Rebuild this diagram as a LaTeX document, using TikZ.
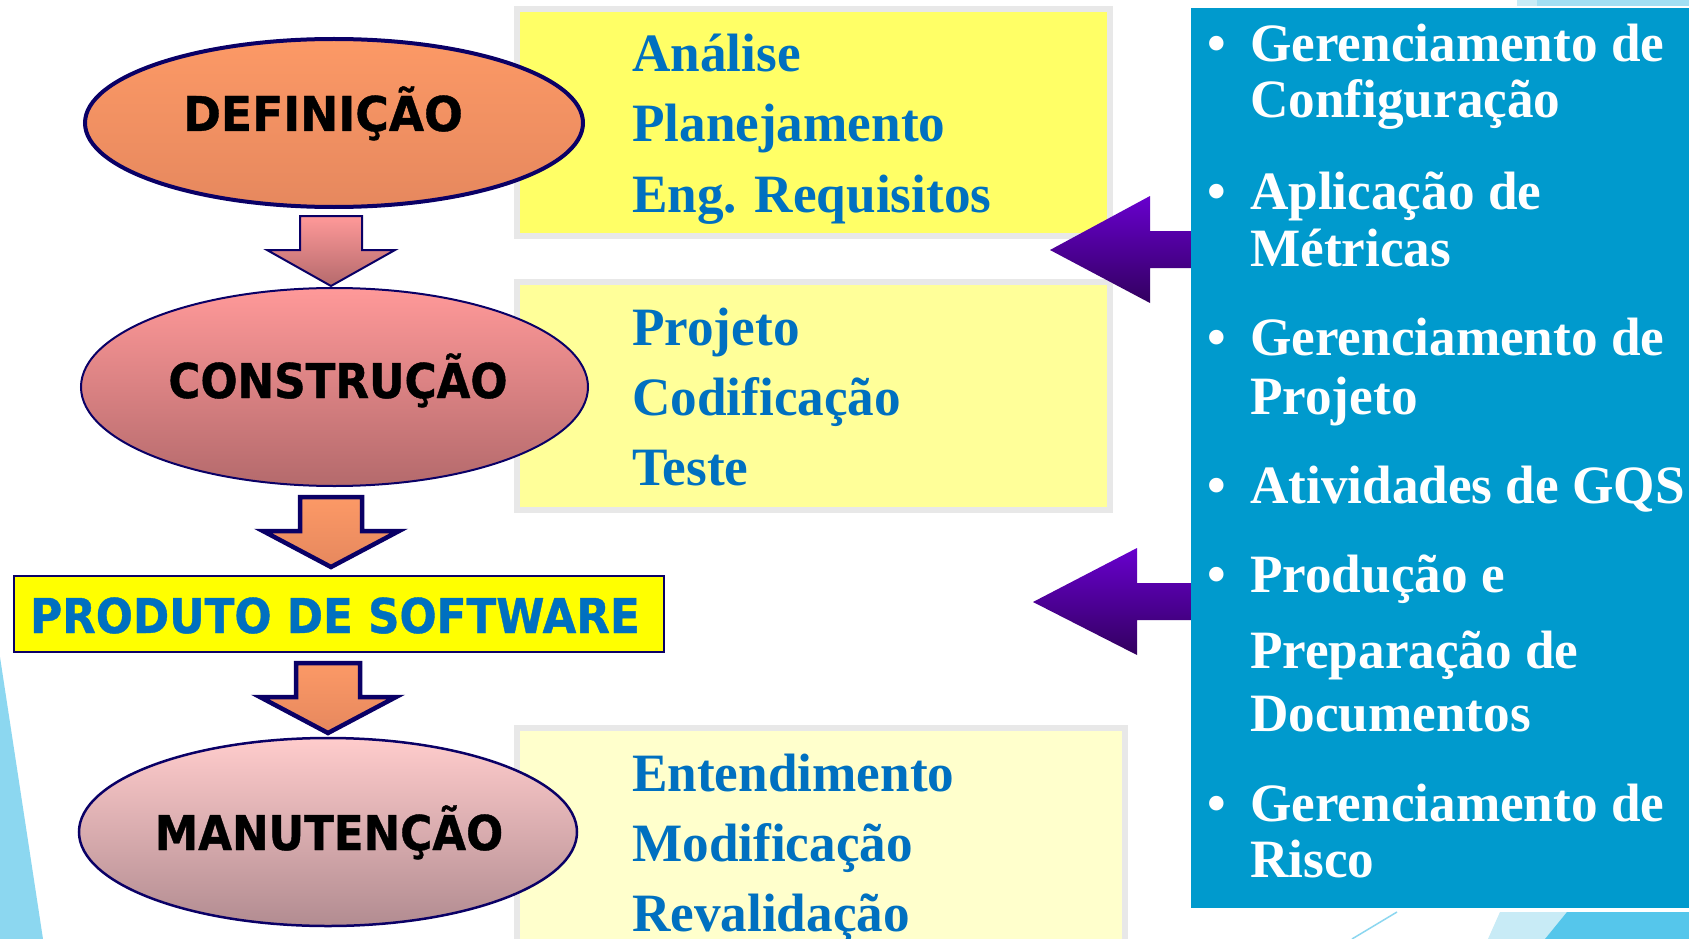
\documentclass[tikz,border=0pt]{standalone}
\usepackage{fontspec}
\setmainfont{Liberation Serif}[FakeStretch=0.985]
\newfontfamily\labfont[FakeStretch=0.91,FakeBold=0.8]{DejaVu Sans}
\newfontfamily\deffont[FakeStretch=0.95,FakeBold=0.8]{DejaVu Sans}
\usetikzlibrary{shapes.geometric,calc}
\definecolor{navy}{RGB}{10,0,102}
\definecolor{txtblue}{RGB}{0,112,192}
\definecolor{panelblue}{RGB}{0,154,205}
\definecolor{boxgray}{RGB}{232,232,232}
\definecolor{yelA}{RGB}{255,255,102}
\definecolor{yelB}{RGB}{255,255,153}
\definecolor{yelC}{RGB}{255,255,204}
\definecolor{prodyel}{RGB}{255,255,0}
\definecolor{orTop}{RGB}{252,153,102}
\definecolor{orBot}{RGB}{230,136,94}
\definecolor{pkTop}{RGB}{255,153,153}
\definecolor{pkBot}{RGB}{180,106,108}
\definecolor{mvTop}{RGB}{255,204,204}
\definecolor{mvBot}{RGB}{178,140,145}
\definecolor{puTop}{RGB}{104,0,206}
\definecolor{puBot}{RGB}{50,0,95}
\definecolor{decoA}{RGB}{140,215,240}
\definecolor{decoB}{RGB}{200,235,246}
\definecolor{decoC}{RGB}{85,198,235}
\newcommand\dnarrow[4]{%
  \shade[#1] (#2) -- ++(-#4,-36) -- ++(#4-#3,0) -- ++(0,-34) -- ++(2*#3,0)
    -- ++(0,34) -- ++(#4-#3,0) -- cycle;}
\begin{document}
\begin{tikzpicture}[x=1pt,y=-1pt,
  phase/.style={ellipse,draw=navy,inner sep=0pt},
  lab/.style={anchor=base,inner sep=0pt,font=\labfont\bfseries\fontsize{48}{50}\selectfont},
  ybox/.style={draw=boxgray,line width=6pt,inner sep=0pt},
  itemtxt/.style={anchor=base west,inner sep=0pt,text=txtblue,font=\bfseries\fontsize{54}{60}\selectfont},
  bultxt/.style={anchor=base west,inner sep=0pt,text=white,font=\bfseries\fontsize{54}{60}\selectfont},
  blockarrow/.style={draw=navy,line join=miter},
  purplearrow/.style={top color=puTop,bottom color=puBot}
]
\useasboundingbox (0,0) rectangle (1689,939);
\clip (0,0) rectangle (1689,939);
\fill[white] (0,0) rectangle (1689,939);

% background decoration
\fill[decoA] (0,657) -- (43,939) -- (0,939) -- cycle;
\draw[decoA,line width=1.5pt] (1397,912) -- (1352,939);
\fill[decoB] (1500,912) -- (1689,912) -- (1689,939) -- (1488,939) -- cycle;
\fill[decoC] (1567,912) -- (1689,912) -- (1689,939) -- (1545,939) -- cycle;
\fill[decoB] (1517,0) rectangle (1689,6);
\fill[decoA!80!white] (1537,0) rectangle (1689,6);

% yellow boxes
\node[ybox,fill=yelA,minimum width=592.5pt,minimum height=227pt] (box1) at (813.25,122.5) {};
\node[ybox,fill=yelB,minimum width=592.5pt,minimum height=228pt] (box2) at (813.25,395.5) {};
\node[ybox,fill=yelC,minimum width=607.5pt,minimum height=232pt] (box3) at (820.75,844) {};

% blue panel
\node[fill=panelblue,inner sep=0pt,minimum width=509pt,minimum height=900pt] (panel) at (1445.5,458) {};

% purple arrows
\coordinate (pa1) at (1050,250);
\coordinate (pa2) at (1033,602);
\shade[purplearrow] (pa1) -- (1150,196) -- (1150,231) -- (panel.west |- 0,231)
  -- (panel.west |- 0,268) -- (1150,268) -- (1150,303) -- cycle;
\shade[purplearrow] (pa2) -- (1137,548) -- (1137,583) -- (panel.west |- 0,583)
  -- (panel.west |- 0,620) -- (1137,620) -- (1137,655) -- cycle;

% phases
\node[phase,line width=4pt,top color=orTop,bottom color=orBot,minimum width=498pt,minimum height=168pt] (def) at (334,123) {};
\node[phase,line width=2pt,top color=pkTop,bottom color=pkBot,minimum width=507pt,minimum height=198pt] (cons) at (334.5,387) {};
\node[draw=navy,line width=2.5pt,fill=prodyel,inner sep=0pt,minimum width=650pt,minimum height=76pt] (prod) at (339,614) {};
\node[phase,line width=2.5pt,top color=mvTop,bottom color=mvBot,minimum width=498pt,minimum height=188pt] (man) at (328,832) {};

% block arrows
\coordinate (t1) at (331,286);
\coordinate (t2) at (331,567);
\coordinate (t3) at (328,733);
\dnarrow{blockarrow,line width=2pt,top color=pkTop,bottom color=pkBot}{t1}{31}{64}
\dnarrow{blockarrow,line width=4.5pt,top color=orTop,bottom color=orBot}{t2}{31}{68}
\dnarrow{blockarrow,line width=4.5pt,top color=orTop,bottom color=orBot}{t3}{32}{68}

% phase labels
\node[lab,font=\deffont\bfseries\fontsize{48}{50}\selectfont] (defl) at (323,131) {DEFINIÇÃO};
\node[lab] (consl) at (338,398) {CONSTRUÇÃO};
\node[lab,text=txtblue] (prodl) at (335,633) {PRODUTO DE SOFTWARE};
\node[lab] (manl) at (329,850) {MANUTENÇÃO};

% box texts
\node[itemtxt] (a1) at (632,72) {Análise};
\node[itemtxt] (a2) at (632,142) {Planejamento};
\node[itemtxt] (a3) at (632,212) {Eng. Requisitos};
\node[itemtxt] (b1) at (632,345) {Projeto};
\node[itemtxt] (b2) at (632,415) {Codificação};
\node[itemtxt] (b3) at (632,485) {Teste};
\node[itemtxt] (c1) at (632,791) {Entendimento};
\node[itemtxt] (c2) at (632,861) {Modificação};
\node[itemtxt] (c3) at (632,931) {Revalidação};

% bullets
\foreach \y/\n in {62/1,209/2,355/3,503/4,592/5,821/6}
  \node[bultxt] (dot\n) at (1207,\y) {•};
\node[bultxt] (r1) at (1250,62) {Gerenciamento de};
\node[bultxt] (r1b) at (1250,118) {Configuração};
\node[bultxt] (r2) at (1250,209) {Aplicação de};
\node[bultxt] (r2b) at (1250,266) {Métricas};
\node[bultxt] (r3) at (1250,355) {Gerenciamento de};
\node[bultxt] (r3b) at (1250,414) {Projeto};
\node[bultxt] (r4) at (1250,503) {Atividades de GQS};
\node[bultxt] (r5) at (1250,592) {Produção e};
\node[bultxt] (r5b) at (1250,668) {Preparação de};
\node[bultxt] (r5c) at (1250,731) {Documentos};
\node[bultxt] (r6) at (1250,821) {Gerenciamento de};
\node[bultxt] (r6b) at (1250,877) {Risco};
\end{tikzpicture}
\end{document}
